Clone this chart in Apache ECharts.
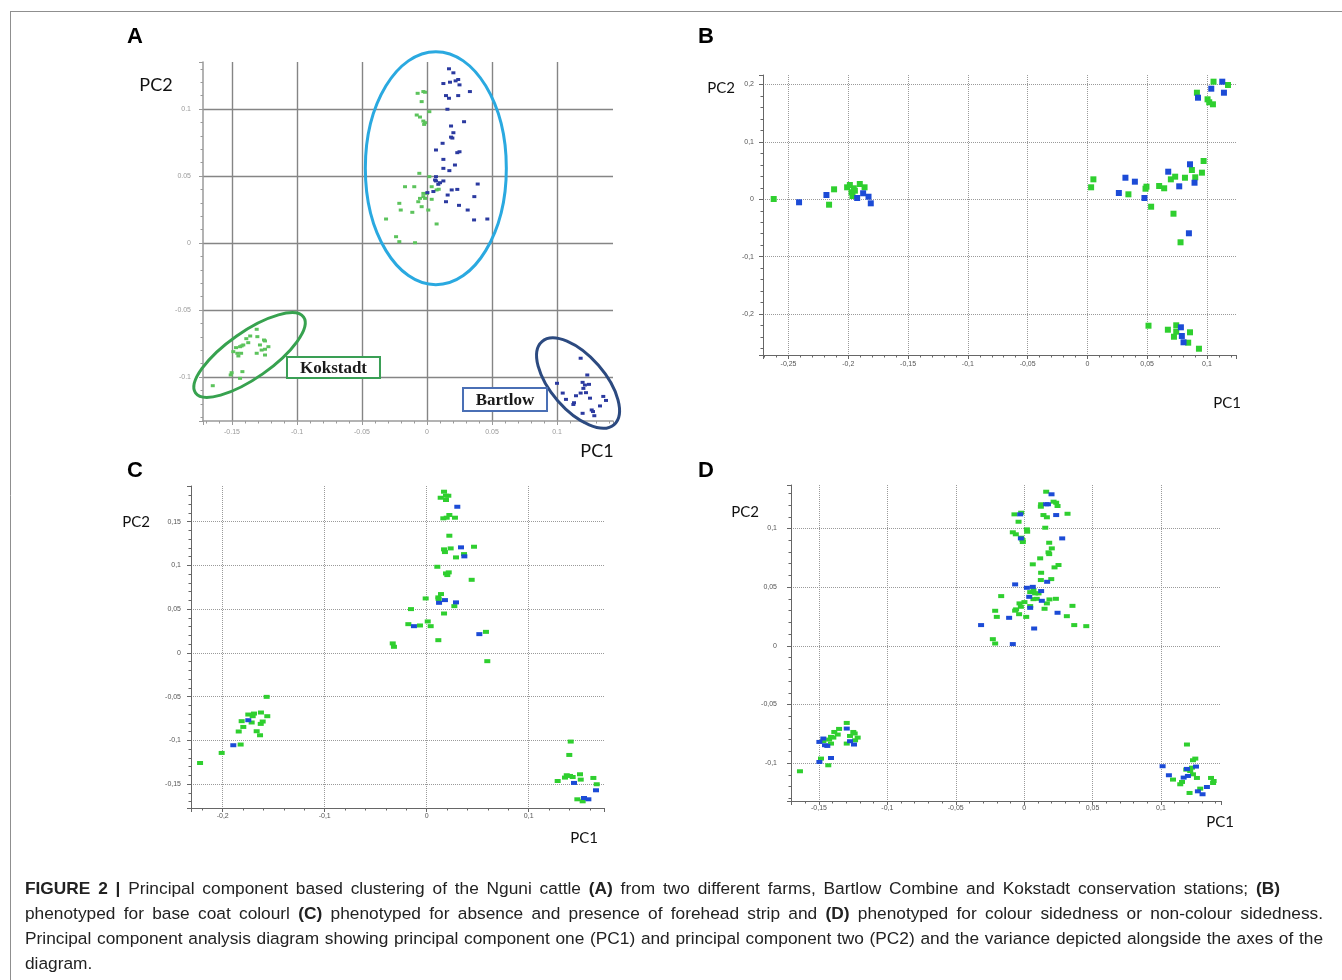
<!DOCTYPE html>
<html>
<head>
<meta charset="utf-8">
<script src="https://cdn.jsdelivr.net/npm/echarts@6/dist/echarts.min.js"></script>
<style>
html,body{margin:0;padding:0;background:#fff;}
#chart{position:absolute;left:0;top:0;width:1342px;height:980px;}
#caption{position:absolute;left:25px;top:876px;width:1300px;font-family:"Liberation Sans",Arial,sans-serif;font-size:16px;color:#222;line-height:25px;}
#caption div{white-space:nowrap;}
#caption b{font-weight:bold;}
</style>
</head>
<body>
<div id="chart"></div>
<div id="caption">
<div class="ln" data-w="1255"><span><b>FIGURE 2 |</b> Principal component based clustering of the Nguni cattle <b>(A)</b> from two different farms, Bartlow Combine and Kokstadt conservation stations; <b>(B)</b></span></div>
<div class="ln full" data-w="1298"><span>phenotyped for base coat colourl <b>(C)</b> phenotyped for absence and presence of forehead strip and <b>(D)</b> phenotyped for colour sidedness or non-colour sidedness.</span></div>
<div class="ln full" data-w="1298"><span>Principal component analysis diagram showing principal component one (PC1) and principal component two (PC2) and the variance depicted alongside the axes of the</span></div>
<div><span>diagram.</span></div>
</div>
<script>
// ---------------- DATA ----------------
// Panel A: farms (green = Kokstadt side / blue = Bartlow side)
const panelA_green = [
[-0.0072,0.1117],[-0.0028,0.113],[-0.0015,0.1125],[-0.0041,0.1055],[-0.0079,0.0955],[-0.0054,0.094],[0.0018,0.098],[-0.0028,0.091],[-0.0015,0.0898],[-0.0022,0.0885],
[-0.0059,0.052],[0.0018,0.0495],[-0.0169,0.042],[-0.0098,0.042],[0.0036,0.042],[0.0074,0.0396],[0.0090,0.0401],[-0.0028,0.037],[0.0000,0.0370],[-0.0054,0.0333],
[-0.0028,0.0346],[-0.0015,0.0333],[0.0036,0.0326],[-0.0067,0.0308],[-0.0213,0.0296],[-0.0041,0.0271],[-0.0202,0.0246],[-0.0113,0.0229],[0.001,0.0246],[-0.0315,0.0179],
[0.0074,0.0142],[-0.0238,0.0047],[-0.0213,0.001],[-0.0092,0.0002],
[-0.131,-0.0644],[-0.136,-0.0694],[-0.139,-0.0714],[-0.1305,-0.0699],[-0.1254,-0.0724],[-0.1246,-0.0731],[-0.1375,-0.0744],[-0.1413,-0.0761],[-0.1426,-0.0768],[-0.1438,-0.0774],
[-0.122,-0.0774],[-0.1285,-0.0761],[-0.1469,-0.0781],[-0.149,-0.0811],[-0.1459,-0.0823],[-0.143,-0.0823],[-0.1272,-0.0799],[-0.1246,-0.0793],[-0.131,-0.0823],[-0.1246,-0.0836],
[-0.1451,-0.0843],[-0.142,-0.096],[-0.1503,-0.0968],[-0.151,-0.0985],[-0.1438,-0.101],[-0.1648,-0.1065]
];
const panelA_blue = [
[0.0169,0.130],[0.0203,0.127],[0.0126,0.119],[0.0177,0.120],[0.022,0.121],[0.024,0.122],[0.025,0.118],[0.0146,0.110],[0.0169,0.108],[0.024,0.110],
[0.033,0.113],[0.0157,0.0998],[0.0285,0.0905],[0.0185,0.0873],[0.0203,0.0823],[0.0185,0.079],[0.0195,0.0783],[0.012,0.0744],[0.0069,0.0694],[0.025,0.0681],
[0.0233,0.0674],[0.0126,0.0624],[0.0215,0.0582],[0.0126,0.0557],[0.0172,0.054],[0.0069,0.0495],[0.0062,0.047],[0.0069,0.0463],[0.01,0.045],[0.0126,0.0463],
[0.0087,0.0438],[0.039,0.044],[0.0003,0.0376],[0.0049,0.0384],[0.0159,0.0358],[0.019,0.0396],[0.0233,0.040],[0.0364,0.0346],[0.0146,0.0308],[0.0246,0.0281],
[0.0313,0.0246],[0.0362,0.0172],[0.0464,0.0179],
[0.1182,-0.086],[0.1233,-0.0985],[0.1,-0.1047],[0.1197,-0.104],[0.1215,-0.106],[0.1246,-0.1055],[0.1044,-0.112],[0.1146,-0.114],[0.1182,-0.112],[0.1223,-0.1117],
[0.1203,-0.1085],[0.1069,-0.1167],[0.1131,-0.1192],[0.1126,-0.1205],[0.1254,-0.1158],[0.1356,-0.1145],[0.1377,-0.1175],[0.1331,-0.1216],[0.1267,-0.1246],[0.1277,-0.1258],
[0.1197,-0.1271],[0.1287,-0.1289]
];
// Panel B: base coat colour
const panelB_green = [
[-0.2624,0.0005],[-0.2119,0.0174],[-0.2161,-0.0094],[-0.201,0.0209],[-0.1987,0.0249],[-0.1954,0.0192],[-0.1973,0.0122],[-0.1965,0.0057],[-0.1904,0.0267],[-0.1864,0.0209],[-0.1945,0.015],
[0.1055,0.2049],[0.1176,0.1991],[0.0916,0.1857],[0.1005,0.1742],[0.1019,0.169],[0.105,0.1655],[0.0972,0.0667],[0.0874,0.051],[0.0958,0.0464],[0.0902,0.0383],
[0.0816,0.0376],[0.0734,0.0394],[0.0698,0.0348],[0.06,0.0232],[0.0642,0.0192],[0.0494,0.022],[0.0486,0.0185],[0.0343,0.0087],[0.005,0.0348],[0.0031,0.0209],
[0.0533,-0.0129],[0.072,-0.0251],[0.0779,-0.0749],[0.0511,-0.2202],[0.0673,-0.2272],[0.0743,-0.2195],[0.0743,-0.2306],[0.0724,-0.2394],[0.0858,-0.2317],[0.0843,-0.2498],[0.0933,-0.2603]
];
const panelB_blue = [
[-0.2412,-0.0052],[-0.2183,0.0075],[-0.1926,0.0023],[-0.1876,0.0105],[-0.1831,0.0045],[-0.1812,-0.007],
[0.1128,0.2049],[0.1036,0.1927],[0.1142,0.1857],[0.0925,0.177],[0.0858,0.061],[0.0676,0.0481],[0.0318,0.0376],[0.0397,0.0307],[0.0896,0.0289],[0.0768,0.0226],
[0.0263,0.011],[0.0477,0.0023],[0.0849,-0.0592],[0.0782,-0.223],[0.079,-0.2381],[0.0804,-0.2491]
];
// Panel C: forehead strip
const panelC_green = [
[-0.2222,-0.1259],[-0.201,-0.1144],[-0.1824,-0.1048],[-0.1843,-0.0899],[-0.1798,-0.0847],[-0.1814,-0.0781],[-0.1749,-0.0705],[-0.1716,-0.0796],[-0.1706,-0.0724],[-0.1693,-0.0694],
[-0.1667,-0.0896],[-0.1634,-0.0942],[-0.1627,-0.0812],[-0.1608,-0.0785],[-0.1625,-0.0682],[-0.1563,-0.0724],[-0.1569,-0.0503],
[0.017,0.1842],[0.0137,0.1773],[0.0189,0.1796],[0.0212,0.1796],[0.0189,0.1747],[0.0163,0.1538],[0.0196,0.1545],[0.0222,0.1576],[0.0277,0.1545],[0.0222,0.1339],
[0.017,0.1183],[0.0179,0.1152],[0.0235,0.1194],[0.0366,0.1129],[0.0287,0.1091],[0.0464,0.1213],[0.0104,0.0984],[0.0189,0.0908],[0.0216,0.092],[0.0202,0.0889],
[0.0441,0.0835],[0.014,0.0672],[0.0114,0.0634],[0.0117,0.0615],[-0.001,0.0622],[-0.0154,0.05],[0.0271,0.0534],[0.017,0.045],[-0.018,0.0328],[-0.0066,0.0313],
[0.001,0.0359],[0.0039,0.0305],[0.0114,0.0145],[-0.0333,0.0108],[-0.0321,0.0069],[0.0581,0.024],[0.0594,-0.0095],
[0.1412,-0.1014],[0.1398,-0.1167],[0.1284,-0.1465],[0.1356,-0.1426],[0.1373,-0.1399],[0.1405,-0.1407],[0.1431,-0.1419],[0.1503,-0.1388],[0.151,-0.1449],[0.1634,-0.143],
[0.1667,-0.1502],[0.1477,-0.1674],[0.1529,-0.1697]
];
const panelC_blue = [
[-0.1896,-0.1056],[-0.1749,-0.077],
[0.03,0.167],[0.0336,0.1206],[0.0369,0.1103],[0.0179,0.0603],[0.0121,0.0572],[0.0287,0.0577],[-0.0125,0.0305],[0.0516,0.0214],
[0.1444,-0.1487],[0.166,-0.1571],[0.1542,-0.1659],[0.1585,-0.1674]
];
// Panel D: colour sidedness
const panelD_green = [
[-0.1639,-0.1069],[-0.1485,-0.0961],[-0.1432,-0.1018],[-0.1468,-0.0811],[-0.1426,-0.0799],[-0.1412,-0.0833],[-0.1412,-0.0776],[-0.1395,-0.0782],[-0.1388,-0.0734],[-0.1363,-0.0756],
[-0.1353,-0.0708],[-0.1297,-0.0657],[-0.1273,-0.0768],[-0.1297,-0.0833],[-0.1249,-0.0734],[-0.1239,-0.0747],[-0.1217,-0.0782],[-0.1236,-0.0805],
[0.0161,0.1314],[0.0215,0.1229],[0.0234,0.122],[0.0244,0.1192],[0.0124,0.1207],[0.0122,0.1186],[0.0317,0.1126],[0.0141,0.1115],[0.0166,0.1096],[-0.0071,0.1121],
[-0.0022,0.1135],[-0.0041,0.1058],[0.0154,0.1007],[0.002,0.0993],[0.0022,0.0973],[-0.0083,0.0968],[-0.0061,0.0951],[-0.0022,0.0922],[-0.0012,0.0902],[-0.001,0.0885],
[0.0183,0.0879],[0.0202,0.0831],[0.0178,0.0797],[0.0183,0.0782],[0.0117,0.0746],[0.0063,0.0695],[0.0251,0.0689],[0.0222,0.0669],[0.0124,0.0623],[0.0122,0.0561],
[0.0198,0.0569],[-0.0168,0.0424],[0.0044,0.0458],[0.0068,0.0475],[0.008,0.0447],[0.0105,0.0447],[0.0068,0.0398],[0.0092,0.0401],[0.0185,0.0396],[0.0232,0.0401],
[0.0002,0.0373],[-0.0034,0.0362],[0.0166,0.0362],[-0.0024,0.0333],[0.0044,0.0339],[-0.0059,0.0311],[-0.0066,0.0300],[0.0149,0.0316],[0.0353,0.0341],[-0.0212,0.0299],
[-0.02,0.0247],[-0.0037,0.027],[0.0015,0.0247],[0.0312,0.0253],[0.0366,0.0177],[0.0454,0.0168],[-0.0229,0.0057],[-0.0212,0.002],
[0.119,-0.0841],[0.1251,-0.0961],[0.1234,-0.0975],[0.1227,-0.1038],[0.1214,-0.1067],[0.1185,-0.1055],[0.1234,-0.1095],[0.1263,-0.1126],[0.1088,-0.114],[0.1154,-0.116],
[0.1141,-0.118],[0.1366,-0.1126],[0.1385,-0.1152],[0.1381,-0.1169],[0.1287,-0.1217],[0.1209,-0.1254]
];
const panelD_blue = [
[-0.1497,-0.099],[-0.1497,-0.0819],[-0.1468,-0.079],[-0.1456,-0.0847],[-0.1439,-0.0853],[-0.1412,-0.0956],[-0.1297,-0.0705],[-0.1273,-0.0813],[-0.1244,-0.0841],
[0.02,0.1292],[0.0161,0.1207],[0.0174,0.1207],[0.0234,0.1115],[-0.0029,0.1121],[-0.0024,0.0916],[0.0278,0.0916],[-0.0066,0.0524],[0.002,0.0495],[0.0063,0.0503],
[0.0124,0.0467],[0.0037,0.0418],[0.0168,0.0546],[0.0129,0.0384],[0.0044,0.0324],[0.0244,0.0282],[-0.011,0.0239],[-0.0315,0.0177],[0.0073,0.0148],[-0.0083,0.0015],
[0.1012,-0.1026],[0.1058,-0.1103],[0.1166,-0.1123],[0.1197,-0.1109],[0.119,-0.1049],[0.1256,-0.1029],[0.1336,-0.1203],[0.127,-0.124],[0.1304,-0.1265]
];
// Axis ranges [xmin, xmax, xstep, ymin, ymax, ystep]
const rangeA = [-0.17231, 0.14308, 0.05, -0.13284, 0.13507, 0.05];
const rangeB = [-0.27136, 0.12429, 0.05, -0.27125, 0.21655, 0.1];
const rangeC = [-0.23108, 0.17382, 0.1, -0.17735, 0.19073, 0.05];
const rangeD = [-0.17045, 0.14389, 0.05, -0.13225, 0.13712, 0.05];
const panelLetters = ['A', 'B', 'C', 'D'];
const axisNames = ['PC1', 'PC2'];

// ---------------- CHART ----------------
const chart = echarts.init(document.getElementById('chart'), null, {renderer: 'canvas'});

function fmtDot(v) { return String(+v.toFixed(4)); }
function fmtComma(v) { return String(+v.toFixed(4)).replace('.', ','); }

function makeAxis(gi, min, max, step, fmt, st, labelMargin) {
  return {
    type: 'value', gridIndex: gi, min: min, max: max,
    minInterval: step, maxInterval: step, splitNumber: 6,
    axisLine: {show: true, onZero: false, lineStyle: {color: st.axis, width: st.axisW}},
    axisTick: {show: true, length: 4, lineStyle: {color: st.axis, width: 1}},
    minorTick: {show: true, splitNumber: 5, length: 2.5, lineStyle: {color: st.axis, width: 1}},
    axisLabel: {
      show: true, fontSize: 7, color: st.label, margin: labelMargin,
      fontFamily: '"Liberation Sans", Arial, sans-serif',
      showMinLabel: false, showMaxLabel: false,
      formatter: function (v) {
        const k = v / step;
        if (Math.abs(k - Math.round(k)) > 1e-6) return '';
        return fmt(v);
      }
    },
    splitLine: {show: true, showMinLine: false, showMaxLine: false,
      lineStyle: {color: st.split, width: st.splitW, type: st.splitType}},
    minorSplitLine: {show: false}
  };
}

const styleA = {axis: '#9a9a9a', axisW: 1.5, label: '#9a9a9a', split: '#858585', splitW: 1.4, splitType: 'solid'};
const styleN = {axis: '#666', axisW: 1, label: '#555', split: '#9a9a9a', splitW: 1, splitType: [1, 1]};

const GREEN_A = '#5cc35c', BLUE_A = '#2b3aa0';
const GREEN = '#2fcf2f', BLUE = '#1c4bd6';

function sc(gi, data, color, size, name) {
  return {
    type: 'scatter', name: name, xAxisIndex: gi, yAxisIndex: gi, data: data,
    symbol: 'rect', symbolSize: size, itemStyle: {color: color, opacity: 1},
    emphasis: {disabled: true}, silent: true, animation: false
  };
}

const option = {
  animation: false,
  backgroundColor: '#fff',
  grid: [
    {left: 203, top: 62, width: 410, height: 359},
    {left: 763, top: 75, width: 473, height: 280},
    {left: 191, top: 486, width: 413, height: 322},
    {left: 791, top: 485, width: 430, height: 316}
  ],
  xAxis: [
    makeAxis(0, rangeA[0], rangeA[1], rangeA[2], fmtDot, styleA, 8),
    makeAxis(1, rangeB[0], rangeB[1], rangeB[2], fmtComma, styleN, 6),
    makeAxis(2, rangeC[0], rangeC[1], rangeC[2], fmtComma, styleN, 5),
    makeAxis(3, rangeD[0], rangeD[1], rangeD[2], fmtComma, styleN, 4)
  ],
  yAxis: [
    makeAxis(0, rangeA[3], rangeA[4], rangeA[5], fmtDot, styleA, 12),
    makeAxis(1, rangeB[3], rangeB[4], rangeB[5], fmtComma, styleN, 9),
    makeAxis(2, rangeC[3], rangeC[4], rangeC[5], fmtComma, styleN, 10),
    makeAxis(3, rangeD[3], rangeD[4], rangeD[5], fmtComma, styleN, 14)
  ],
  series: [
    sc(0, panelA_green, GREEN_A, [4, 3], 'A green'),
    sc(0, panelA_blue, BLUE_A, [4, 3], 'A blue'),
    sc(1, panelB_green, GREEN, [6, 6], 'B green'),
    sc(1, panelB_blue, BLUE, [6, 6], 'B blue'),
    sc(2, panelC_green, GREEN, [6, 4], 'C green'),
    sc(2, panelC_blue, BLUE, [6, 4], 'C blue'),
    sc(3, panelD_green, GREEN, [6, 4], 'D green'),
    sc(3, panelD_blue, BLUE, [6, 4], 'D blue')
  ]
};
chart.setOption(option);

// ---------------- ANNOTATIONS ----------------
function px(gi, p) { return chart.convertToPixel({gridIndex: gi}, p); }
function txt(x, y, text, font, color) {
  return {type: 'text', x: x, y: y, z: 20, silent: true,
    style: {text: text, font: font, fill: color || '#111',
      align: 'center', verticalAlign: 'middle', textAlign: 'center', textVerticalAlign: 'middle'}};
}
const G = [];
// frame
G.push({type: 'line', silent: true, shape: {x1: 10, y1: 11.5, x2: 1342, y2: 11.5}, style: {stroke: '#8f8f8f', lineWidth: 1}});
G.push({type: 'line', silent: true, shape: {x1: 10.5, y1: 11, x2: 10.5, y2: 980}, style: {stroke: '#8f8f8f', lineWidth: 1}});
// panel letters
const letterPos = [[135, 37], [706, 37], [135, 471], [706, 471]];
panelLetters.forEach((L, i) => G.push(txt(letterPos[i][0], letterPos[i][1], L, 'bold 22px "Liberation Sans", Arial, sans-serif', '#000')));
// PC labels
const pcFont = ['18px Lato, "Open Sans", sans-serif', '15px Lato, "Open Sans", sans-serif', '15px Lato, "Open Sans", sans-serif', '15px Lato, "Open Sans", sans-serif'];
const pc2Pos = [[156, 85], [721, 88], [136, 522], [745, 512]];
const pc1Pos = [[597, 451], [1227, 403], [584, 838], [1220, 822]];
for (let i = 0; i < 4; i++) {
  G.push(txt(pc2Pos[i][0], pc2Pos[i][1], axisNames[1], pcFont[i], '#111'));
  G.push(txt(pc1Pos[i][0], pc1Pos[i][1], axisNames[0], pcFont[i], '#111'));
}
// ellipses in panel A (centres given in data coordinates)
const ellipses = [
  {c: [0.0068, 0.0558], rx: 70.5, ry: 116.5, rot: 0, color: '#2aa9e0'},
  {c: [-0.1365, -0.0836], rx: 66, ry: 23, rot: 35, color: '#37a24f'},
  {c: [0.1162, -0.1045], rx: 55, ry: 27, rot: -49, color: '#2c4a80'}
];
ellipses.forEach(e => {
  const p = px(0, e.c);
  G.push({type: 'ellipse', x: p[0], y: p[1], rotation: e.rot * Math.PI / 180, z: 15, silent: true,
    shape: {cx: 0, cy: 0, rx: e.rx, ry: e.ry},
    style: {fill: 'none', stroke: e.color, lineWidth: 3}});
});
// label boxes (top-left corner in data coordinates)
const boxes = [
  {tl: [-0.1077, -0.0851], w: 93, h: 21, color: '#3a9f55', text: 'Kokstadt'},
  {tl: [0.0277, -0.1082], w: 84, h: 23, color: '#4a6fb5', text: 'Bartlow'}
];
boxes.forEach(b => {
  const p = px(0, b.tl);
  G.push({type: 'rect', x: p[0], y: p[1], z: 16, silent: true, shape: {x: 0, y: 0, width: b.w, height: b.h},
    style: {fill: '#fff', stroke: b.color, lineWidth: 2}});
  G.push(txt(p[0] + b.w / 2, p[1] + b.h / 2 + 1, b.text, 'bold 17px "Liberation Serif", "Times New Roman", serif', '#1a1a1a'));
});
chart.setOption({graphic: {elements: G}});

// ---------------- CAPTION FIT + JUSTIFY ----------------
(function () {
  const cap = document.getElementById('caption');
  const lines = Array.from(cap.querySelectorAll('.ln'));
  // choose a common font size so the full lines fit naturally
  let ratio = Infinity;
  lines.filter(d => d.classList.contains('full')).forEach(d => {
    const w = d.querySelector('span').getBoundingClientRect().width;
    ratio = Math.min(ratio, (+d.getAttribute('data-w')) / w);
  });
  let fs = 16 * ratio * 0.985;
  fs = Math.max(14, Math.min(18, fs));
  cap.style.fontSize = fs.toFixed(2) + 'px';
  lines.forEach(div => {
    const span = div.querySelector('span');
    const target = +div.getAttribute('data-w');
    const natural = span.getBoundingClientRect().width;
    const spaces = (span.textContent.match(/ /g) || []).length;
    if (spaces > 0) span.style.wordSpacing = ((target - natural) / spaces) + 'px';
  });
})();
</script>
</body>
</html>
